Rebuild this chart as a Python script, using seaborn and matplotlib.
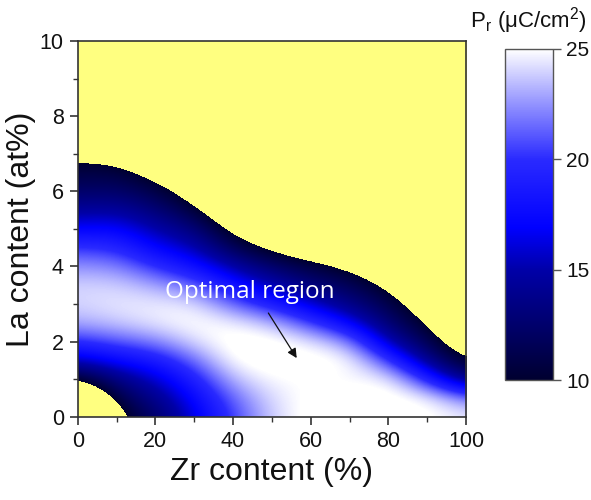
import numpy as np
import matplotlib
matplotlib.use("Agg")
import matplotlib.pyplot as plt
import seaborn as sns
from matplotlib.colors import LinearSegmentedColormap, Normalize

# ---- data ----
zr_content = [0, 10, 20, 30, 40, 50, 60, 70, 80, 90, 100]          # Zr content (%)
la_content = [0.0, 0.5, 1.0, 1.5, 2.0, 2.5, 3.0, 3.5, 4.0, 4.5, 5.0,
              5.5, 6.0, 6.5, 7.0, 7.5, 8.0, 8.5, 9.0, 9.5, 10.0]     # La content (at%)

# Pr (uC/cm2) per Zr column, from La = 0 to La = 10 (values < 10 fall outside the map)
pr_zr0   = [0.0, 4.0, 9.7, 15.5, 19.8, 23.0, 24.0, 24.0, 22.5, 20.3, 17.0, 14.5, 12.3, 10.8, 9.3, 7.5, 5.5, 3.5, 1.5, 0.0, 0.0]
pr_zr10  = [9.2, 11.2, 13.5, 17.3, 21.0, 23.7, 24.5, 24.0, 22.3, 19.8, 17.3, 14.8, 12.5, 11.0, 8.8, 6.5, 4.5, 2.5, 0.5, 0.0, 0.0]
pr_zr20  = [12.3, 13.8, 15.8, 18.5, 22.0, 24.5, 24.6, 23.0, 20.0, 17.0, 15.0, 13.0, 11.2, 9.0, 6.5, 4.5, 2.5, 0.5, 0.0, 0.0, 0.0]
pr_zr30  = [16.3, 17.3, 19.0, 21.5, 24.2, 25.2, 24.5, 21.5, 18.0, 15.5, 13.3, 10.8, 8.5, 6.5, 4.5, 2.5, 0.5, 0.0, 0.0, 0.0, 0.0]
pr_zr40  = [20.5, 21.5, 23.5, 25.3, 25.6, 24.8, 21.5, 18.0, 15.0, 11.5, 9.0, 6.5, 4.0, 2.0, 0.0, 0.0, 0.0, 0.0, 0.0, 0.0, 0.0]
pr_zr50  = [24.0, 24.3, 25.0, 25.6, 25.5, 23.5, 19.0, 15.3, 12.5, 9.3, 7.0, 4.5, 2.0, 0.0, 0.0, 0.0, 0.0, 0.0, 0.0, 0.0, 0.0]
pr_zr60  = [25.5, 25.3, 25.0, 25.5, 24.5, 20.5, 16.0, 13.0, 11.0, 7.5, 5.0, 2.5, 0.0, 0.0, 0.0, 0.0, 0.0, 0.0, 0.0, 0.0, 0.0]
pr_zr70  = [25.5, 25.5, 24.8, 25.2, 22.5, 17.0, 13.5, 11.8, 9.5, 6.5, 4.0, 1.5, 0.0, 0.0, 0.0, 0.0, 0.0, 0.0, 0.0, 0.0, 0.0]
pr_zr80  = [25.5, 25.5, 25.0, 20.5, 15.0, 12.5, 11.3, 9.5, 7.0, 4.5, 2.0, 0.0, 0.0, 0.0, 0.0, 0.0, 0.0, 0.0, 0.0, 0.0, 0.0]
pr_zr90  = [25.3, 25.0, 19.5, 13.8, 11.5, 10.0, 8.0, 6.0, 3.5, 1.0, 0.0, 0.0, 0.0, 0.0, 0.0, 0.0, 0.0, 0.0, 0.0, 0.0, 0.0]
pr_zr100 = [24.5, 22.0, 13.0, 9.7, 7.5, 5.0, 3.0, 1.0, 0.0, 0.0, 0.0, 0.0, 0.0, 0.0, 0.0, 0.0, 0.0, 0.0, 0.0, 0.0, 0.0]

cbar_ticks = [10, 15, 20, 25]
x_ticks = [0, 20, 40, 60, 80, 100]
y_ticks = [0, 2, 4, 6, 8, 10]

# ---- style ----
sns.set_theme(style="ticks")
plt.rcParams["font.family"] = ["Liberation Sans", "DejaVu Sans"]
plt.rcParams["mathtext.default"] = "regular"

grid = np.column_stack([pr_zr0, pr_zr10, pr_zr20, pr_zr30, pr_zr40, pr_zr50,
                        pr_zr60, pr_zr70, pr_zr80, pr_zr90, pr_zr100])

cmap = LinearSegmentedColormap.from_list(
    "pr", [(0.0, "#000030"), (0.333, "#0000a8"), (0.46, "#0000ff"),
           (0.667, "#2a2aff"), (0.833, "#9292ff"), (1.0, "#ffffff")], N=512)
cmap.set_under("#ffff80")
cmap.set_over("#ffffff")
norm = Normalize(vmin=10, vmax=25)

fig = plt.figure(figsize=(5.91, 5.00), dpi=100)
ax = fig.add_axes([0.1315, 0.1666, 0.657, 0.7514])
cax = fig.add_axes([0.8545, 0.24, 0.081, 0.662])

dx = (zr_content[1] - zr_content[0]) / 2
dy = (la_content[1] - la_content[0]) / 2
im = ax.imshow(grid, origin="lower", aspect="auto", cmap=cmap, norm=norm,
               interpolation="bicubic", interpolation_stage="data",
               extent=[zr_content[0] - dx, zr_content[-1] + dx,
                       la_content[0] - dy, la_content[-1] + dy])
ax.set_xlim(0, 100)
ax.set_ylim(0, 10)

ax.set_xticks(x_ticks)
ax.set_yticks(y_ticks)
ax.set_xticks([10, 30, 50, 70, 90], minor=True)
ax.set_yticks([1, 3, 5, 7, 9], minor=True)
ax.tick_params(which="major", direction="out", length=6, width=1.2, color="#333333",
               labelsize=15.5, pad=4, labelcolor="#111111")
ax.tick_params(which="minor", direction="out", length=3.5, width=1.0, color="#333333")
for s in ax.spines.values():
    s.set_color("#333333")
    s.set_linewidth(1.2)

ax.set_xlabel("Zr content (%)", fontsize=23, labelpad=4, color="#111111")
ax.set_ylabel("La content (at%)", fontsize=23, labelpad=3, color="#111111")

ax.text(44.2, 3.16, "Optimal region", color="white", fontsize=17.5,
        family=["Open Sans", "DejaVu Sans"], ha="center", va="baseline")
ax.annotate("", xy=(56.4, 1.56), xytext=(49.1, 2.76),
            arrowprops=dict(arrowstyle="-|>", color="#111111", lw=0.9,
                            mutation_scale=14, shrinkA=0, shrinkB=0))

cb = fig.colorbar(im, cax=cax, ticks=cbar_ticks)
cb.outline.set_edgecolor("#555555")
cb.outline.set_linewidth(1.0)
cax.tick_params(direction="out", length=6, width=1.0, color="#555555",
                labelsize=15, labelcolor="#111111")
cax.minorticks_off()
fig.text(0.795, 0.958, "P$_{r}$ (μC/cm$^{2}$)", fontsize=16, color="#111111",
         ha="left", va="center")

fig.savefig("out.png", dpi=100)
